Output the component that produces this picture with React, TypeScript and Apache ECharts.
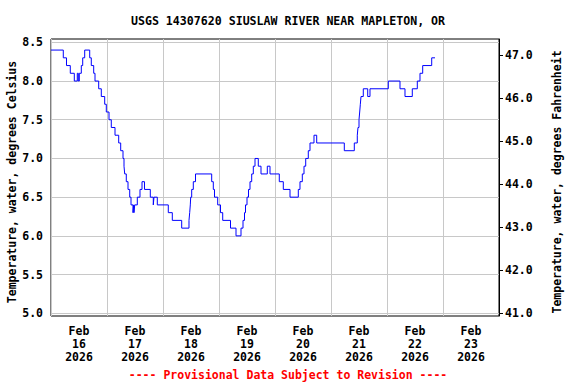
import React, { useEffect, useRef } from "react";
import * as echarts from "echarts";

// Hours since 2026-02-16 00:00 at which the reading changes, and the reading (deg C)
const hours = [
  0, 5.27, 6.64, 8.27, 9.99, 11.27, 11.7, 12.13, 12.99, 13.59, 14.44,
  16.59, 17.27, 18.3, 18.86, 20.44, 21.56, 23.01, 23.7, 24.86, 25.84,
  27.43, 29.01, 29.87, 30.86, 31.29, 31.59, 32.27, 33.0, 33.73, 34.29,
  35.14, 35.44, 35.57, 35.87, 36.99, 38.14, 39.0, 40.07, 42.56, 43.84,
  44.14, 45.56, 50.27, 51.99, 56.01, 59.14, 59.44, 59.7, 59.87, 60.3,
  60.99, 61.93, 68.87, 69.56, 70.07, 71.44, 72.64, 73.59, 76.93, 79.29,
  81.43, 82.29, 82.93, 83.36, 84.0, 84.64, 85.29, 86.01, 86.7, 87.43,
  88.84, 90.0, 92.7, 93.86, 97.84, 99.56, 102.43, 105.99, 106.71, 107.7,
  108.43, 109.16, 110.27, 111.0, 112.71, 113.87, 125.7, 129.99, 131.27,
  131.57, 132.0, 132.3, 132.57, 132.86, 133.84, 135.73, 136.71, 144.56,
  149.57, 151.71, 154.84, 156.99, 158.14, 159.3, 163.16, 164.57,
];
const tempC = [
  8.4, 8.3, 8.2, 8.1, 8.0, 8.1, 8.0, 8.1, 8.2, 8.3, 8.4,
  8.3, 8.2, 8.1, 8.0, 7.9, 7.8, 7.7, 7.6, 7.5, 7.4,
  7.3, 7.2, 7.1, 7.0, 6.9, 6.8, 6.7, 6.6, 6.5, 6.4,
  6.3, 6.4, 6.3, 6.4, 6.5, 6.6, 6.7, 6.6, 6.5, 6.4,
  6.5, 6.4, 6.3, 6.2, 6.1, 6.2, 6.3, 6.4, 6.5, 6.6,
  6.7, 6.8, 6.7, 6.6, 6.5, 6.4, 6.3, 6.2, 6.1, 6.0,
  6.1, 6.2, 6.3, 6.4, 6.5, 6.6, 6.7, 6.8, 6.9, 7.0,
  6.9, 6.8, 6.9, 6.8, 6.7, 6.6, 6.5, 6.6, 6.7, 6.8,
  6.9, 7.0, 7.1, 7.2, 7.3, 7.2, 7.1, 7.2, 7.3,
  7.4, 7.5, 7.6, 7.7, 7.8, 7.9, 7.8, 7.9, 8.0,
  7.9, 7.8, 7.9, 8.0, 8.1, 8.2, 8.3, 8.3,
];

const dayMonths = ["Feb", "Feb", "Feb", "Feb", "Feb", "Feb", "Feb", "Feb"];
const dayNumbers = ["16", "17", "18", "19", "20", "21", "22", "23"];
const dayYears = ["2026", "2026", "2026", "2026", "2026", "2026", "2026", "2026"];
const dayBoundaries = [0, 24, 48, 72, 96, 120, 144, 168, 192];
const dayCenters = [12, 36, 60, 84, 108, 132, 156, 180];
const celsiusTicks = [5.0, 5.5, 6.0, 6.5, 7.0, 7.5, 8.0, 8.5];
const fahrenheitTicks = [41, 42, 43, 44, 45, 46, 47];

const title = "USGS 14307620 SIUSLAW RIVER NEAR MAPLETON, OR";
const leftName = "Temperature, water, degrees Celsius";
const rightName = "Temperature, water, degrees Fahrenheit";
const footer = "---- Provisional Data Subject to Revision ----";

const FONT = "'DejaVu Sans Mono', monospace";
const yMin = 4.965;
const yMax = 8.543;

export default function App() {
  const ref = useRef<HTMLDivElement>(null);
  useEffect(() => {
    if (!ref.current) return;
    const chart = echarts.init(ref.current, null, { renderer: "svg" });
    const data = hours.map((h, i) => [h, tempC[i]]);
    const textBase = { fontFamily: FONT, fontWeight: "bold" as const, fontSize: 11.5, color: "#000" };
    const font = `bold 11.5px ${FONT}`;
    chart.setOption({
      animation: false,
      backgroundColor: "#fff",
      title: {
        text: title,
        left: "center",
        top: 10,
        textStyle: { ...textBase, fontSize: 11.6 },
      },
      grid: {
        left: 51,
        right: 77,
        top: 39,
        bottom: 68,
        show: true,
        borderColor: "#000",
        borderWidth: 1,
        backgroundColor: "transparent",
        containLabel: false,
        outerBoundsMode: "none",
      },
      xAxis: {
        type: "value",
        min: 0,
        max: 192,
        axisLine: { show: false },
        axisTick: { show: false, customValues: dayBoundaries },
        splitLine: { show: true, lineStyle: { color: "#c8c8c8", width: 1 } },
        axisLabel: {
          customValues: dayCenters,
          margin: 8,
          ...textBase,
          lineHeight: 13,
          formatter: (v: number) => {
            const i = dayCenters.indexOf(v);
            return i >= 0 ? `${dayMonths[i]}\n${dayNumbers[i]}\n${dayYears[i]}` : "";
          },
        },
      },
      yAxis: [
        {
          type: "value",
          min: yMin,
          max: yMax,
          position: "left",
          axisLine: { show: false },
          axisTick: { show: false, customValues: celsiusTicks },
          splitLine: { show: true, lineStyle: { color: "#c8c8c8", width: 1 } },
          axisLabel: {
            customValues: celsiusTicks,
            margin: 8,
            ...textBase,
            formatter: (v: number) => v.toFixed(1),
          },
        },
        {
          type: "value",
          min: yMin * 1.8 + 32,
          max: yMax * 1.8 + 32,
          position: "right",
          axisLine: { show: true, lineStyle: { color: "#000", width: 1 } },
          axisTick: {
            show: true,
            inside: false,
            length: 4,
            customValues: fahrenheitTicks,
            lineStyle: { color: "#000" },
          },
          splitLine: { show: false },
          axisLabel: {
            customValues: fahrenheitTicks,
            margin: 6,
            ...textBase,
            formatter: (v: number) => v.toFixed(1),
          },
        },
      ],
      series: [
        {
          type: "line",
          yAxisIndex: 0,
          data,
          step: "end",
          showSymbol: false,
          symbol: "none",
          lineStyle: { color: "#0000ff", width: 1 },
          silent: true,
        },
      ],
      graphic: [
        {
          type: "text",
          x: 12,
          y: 182,
          rotation: Math.PI / 2,
          style: {
            text: leftName,
            fill: "#000",
            font,
            align: "center",
            verticalAlign: "middle",
          },
        },
        {
          type: "text",
          x: 557,
          y: 182,
          rotation: Math.PI / 2,
          style: {
            text: rightName,
            fill: "#000",
            font,
            align: "center",
            verticalAlign: "middle",
          },
        },
        {
          type: "text",
          left: "center",
          top: 369,
          style: {
            text: footer,
            fill: "#ff0000",
            font,
          },
        },
      ],
    });
    return () => chart.dispose();
  }, []);
  return (
    <div
      ref={ref}
      style={{ position: "fixed", left: 0, top: 0, width: 576, height: 384 }}
    />
  );
}
